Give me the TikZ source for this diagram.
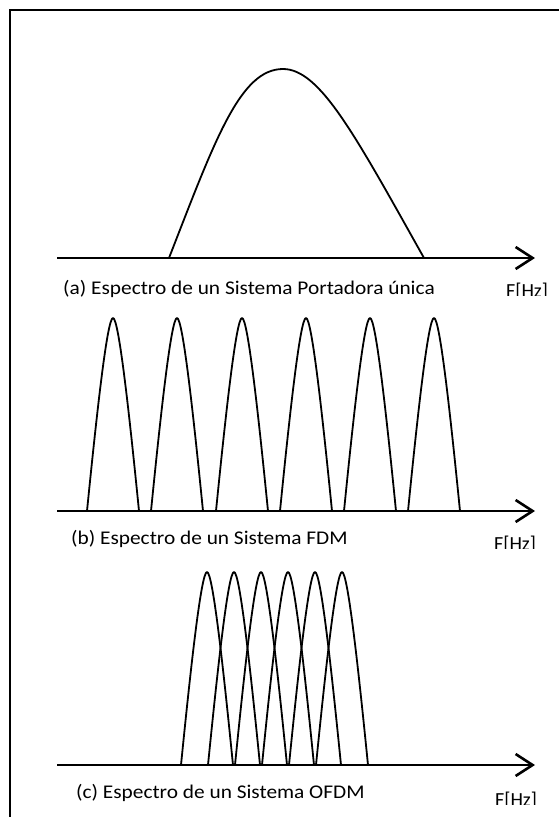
\documentclass[tikz,border=0pt]{standalone}
\usepackage{fontspec}
\setmainfont{Carlito}
\newfontfamily\capfont[FakeStretch=1.1]{Carlito}
\usetikzlibrary{arrows.meta}

\begin{document}
\begin{tikzpicture}[x=1pt, y=-1pt,
    axis/.style={line width=2.6pt, -{Straight Barb[length=17pt, width=22pt]}},
    lobe/.style={line width=1.8pt, line join=round},
    caption/.style={anchor=base west, inner sep=0pt,
                    font=\capfont\fontsize{19.4}{23}\selectfont},
    unit/.style={anchor=base west, inner sep=0pt,
                 font=\fontsize{20}{24}\selectfont}]
  \clip (0,0) rectangle (559,817);
  % frame, only the top and left edges show
  \draw[line width=2.6pt] (10,830) -- (10,10) -- (570,10);

  % (a) single carrier
  \coordinate (a0) at (57,258);
  \coordinate (a1) at (535,258);
  \draw[axis] (a0) -- (a1);
  \draw[lobe] (169,258) .. controls (215,140) and (240,69) .. (283,69)
              .. controls (320,69) and (355,135) .. (424,258);
  \node[caption] (capa) at (63,294) {(a) Espectro de un Sistema Portadora única};
  \begin{scope}
    \clip (480,270) rectangle (559,295);
    \node[unit] (fa) at (506,297) {F[Hz]};
  \end{scope}

  % (b) FDM
  \coordinate (b0) at (57,511);
  \coordinate (b1) at (535,511);
  \draw[axis] (b0) -- (b1);
  \foreach \c in {113,177,242,306,370,434}{
    \draw[lobe] (\c-26,511) .. controls (\c-17,421) and (\c-6,318) .. (\c,318)
                .. controls (\c+6,318) and (\c+17,421) .. (\c+26,511);
  }
  \node[caption] (capb) at (71,544) {(b) Espectro de un Sistema FDM};
  \begin{scope}
    \clip (480,525) rectangle (559,548);
    \node[unit] (fb) at (494,550) {F[Hz]};
  \end{scope}

  % (c) OFDM
  \coordinate (c0) at (57,765);
  \coordinate (c1) at (535,765);
  \draw[axis] (c0) -- (c1);
  \foreach \k in {0,...,5}{
    \pgfmathsetmacro{\c}{207+27*\k}
    \draw[lobe] (\c-26,765) .. controls (\c-17,675) and (\c-6,572) .. (\c,572)
                .. controls (\c+6,572) and (\c+17,675) .. (\c+26,765);
  }
  \node[caption] (capc) at (76,798) {(c) Espectro de un Sistema OFDM};
  \begin{scope}
    \clip (480,780) rectangle (559,804);
    \node[unit] (fc) at (495,806) {F[Hz]};
  \end{scope}
\end{tikzpicture}
\end{document}
